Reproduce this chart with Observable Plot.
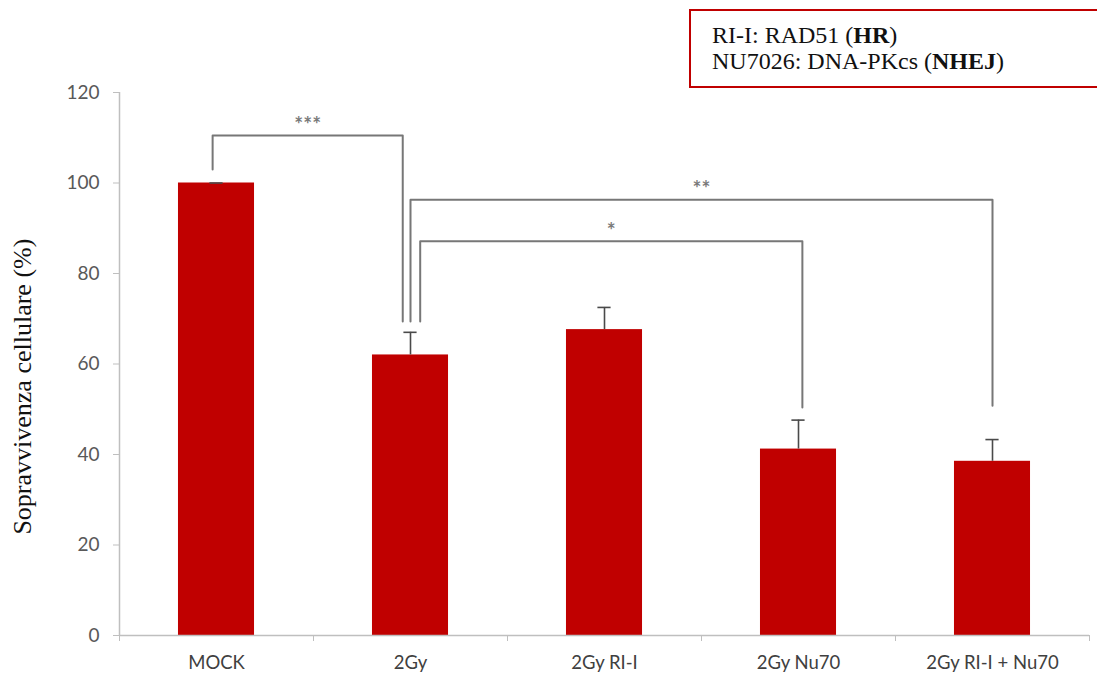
<!DOCTYPE html>
<html>
<head>
<meta charset="utf-8">
<script src="https://cdn.jsdelivr.net/npm/d3@7"></script>
<script src="https://cdn.jsdelivr.net/npm/@observablehq/plot@0.6"></script>
<style>
  body { margin: 0; background: #fff; }
  #wrap { position: relative; width: 1097px; height: 675px; overflow: hidden; }
  #key {
    position: absolute; left: 689px; top: 9px; width: 440px; height: 79px;
    border: 2.5px solid #C00000; box-sizing: border-box;
    font-family: "Liberation Serif", "Times New Roman", serif; font-size: 24px;
    line-height: 26px; padding: 11px 0 0 21px; color: #111;
  }
  #key b { font-weight: bold; }
</style>
</head>
<body>
<div id="wrap">
  <div id="key">RI-I: RAD51 (<b>HR</b>)<br>NU7026: DNA-PKcs (<b>NHEJ</b>)</div>
</div>
<script>
// Treatment groups and mean cell survival (%) with error
const categories = ["MOCK", "2Gy", "2Gy RI-I", "2Gy Nu70", "2Gy RI-I + Nu70"];
const survival = [100, 62, 67.6, 41.2, 38.5];
const errors = [0, 5, 4.9, 6.4, 4.8];

// Significance brackets: groups compared, bracket height, leg ends, stars
const bracketFrom = [0, 1, 1];
const bracketTo = [1, 4, 3];
const bracketTop = [110.5, 96.3, 87.1];
const bracketFromEnd = [103, 69.4, 69.4];
const bracketToEnd = [69.4, 50.8, 50.4];
const bracketStars = ["***", "**", "*"];

const yTicks = [0, 20, 40, 60, 80, 100, 120];

// Layout: small horizontal nudges so the bracket legs do not overlap
const legNudge = [[-0.02, -0.04], [0, 0], [0.05, 0.02]];
const barHalf = 0.196;
const capHalf = 0.034;

const bars = categories.map((c, i) => ({i, c, v: survival[i], e: errors[i]}));

const bracketPaths = [];
bracketFrom.forEach((f, k) => {
  const x1 = f + legNudge[k][0];
  const x2 = bracketTo[k] + legNudge[k][1];
  bracketPaths.push(
    {k, x: x1, y: bracketFromEnd[k]},
    {k, x: x1, y: bracketTop[k]},
    {k, x: x2, y: bracketTop[k]},
    {k, x: x2, y: bracketToEnd[k]}
  );
});
const bracketLabels = bracketFrom.map((f, k) => ({
  x: (f + legNudge[k][0] + bracketTo[k] + legNudge[k][1]) / 2,
  y: bracketTop[k],
  t: bracketStars[k]
}));

const bounds = d3.range(categories.length + 1).map(i => i - 0.5);
const sans = "Lato, 'Open Sans', sans-serif";

const chart = Plot.plot({
  width: 1097,
  height: 675,
  marginLeft: 119,
  marginRight: 8,
  marginTop: 92,
  marginBottom: 40,
  style: {background: "#fff", fontFamily: sans},
  x: {type: "linear", domain: [-0.5, categories.length - 0.5]},
  y: {domain: [0, 120]},
  marks: [
    // bars
    Plot.rectY(bars, {x1: d => d.i - barHalf, x2: d => d.i + barHalf, y1: 0, y2: "v", fill: "#C00000"}),
    // error bars
    Plot.ruleX(bars, {x: "i", y1: "v", y2: d => d.v + d.e, stroke: "#4a4a4a", strokeWidth: 1.6}),
    Plot.ruleY(bars, {y: d => d.v + d.e, x1: d => d.i - capHalf, x2: d => d.i + capHalf, stroke: "#4a4a4a", strokeWidth: 1.6}),
    // significance brackets
    Plot.line(bracketPaths, {x: "x", y: "y", z: "k", stroke: "#777", strokeWidth: 2, curve: "linear"}),
    Plot.text(bracketLabels, {x: "x", y: "y", text: "t", dy: -10, fill: "#7a7a7a", fontSize: 21, fontWeight: "bold", fontFamily: sans}),
    // axes
    Plot.ruleX([-0.5], {y1: 0, y2: 120, stroke: "#bfbfbf", strokeWidth: 1.5}),
    Plot.ruleY([0], {x1: -0.5, x2: categories.length - 0.5, stroke: "#bfbfbf", strokeWidth: 1.5}),
    Plot.axisY({ticks: yTicks, tickSize: 6, tickPadding: 14, stroke: "#bfbfbf", fill: "#595959", fontSize: 19, fontFamily: sans, label: null}),
    Plot.axisX({ticks: bounds, tickSize: 6, tickFormat: () => "", stroke: "#bfbfbf", label: null}),
    Plot.axisX({ticks: d3.range(categories.length), tickSize: 0, tickPadding: 20, tickFormat: i => categories[i], fill: "#404040", fontSize: 18.5, fontFamily: sans, label: null}),
    // y-axis title
    Plot.text(["Sopravvivenza cellulare (%)"], {frameAnchor: "left", textAnchor: "middle", y: 55, dx: -97, rotate: -90, text: d => d, fontSize: 26, fill: "#111", fontFamily: "'Liberation Serif', 'Times New Roman', serif"})
  ]
});

document.getElementById("wrap").prepend(chart);
</script>
</body>
</html>
